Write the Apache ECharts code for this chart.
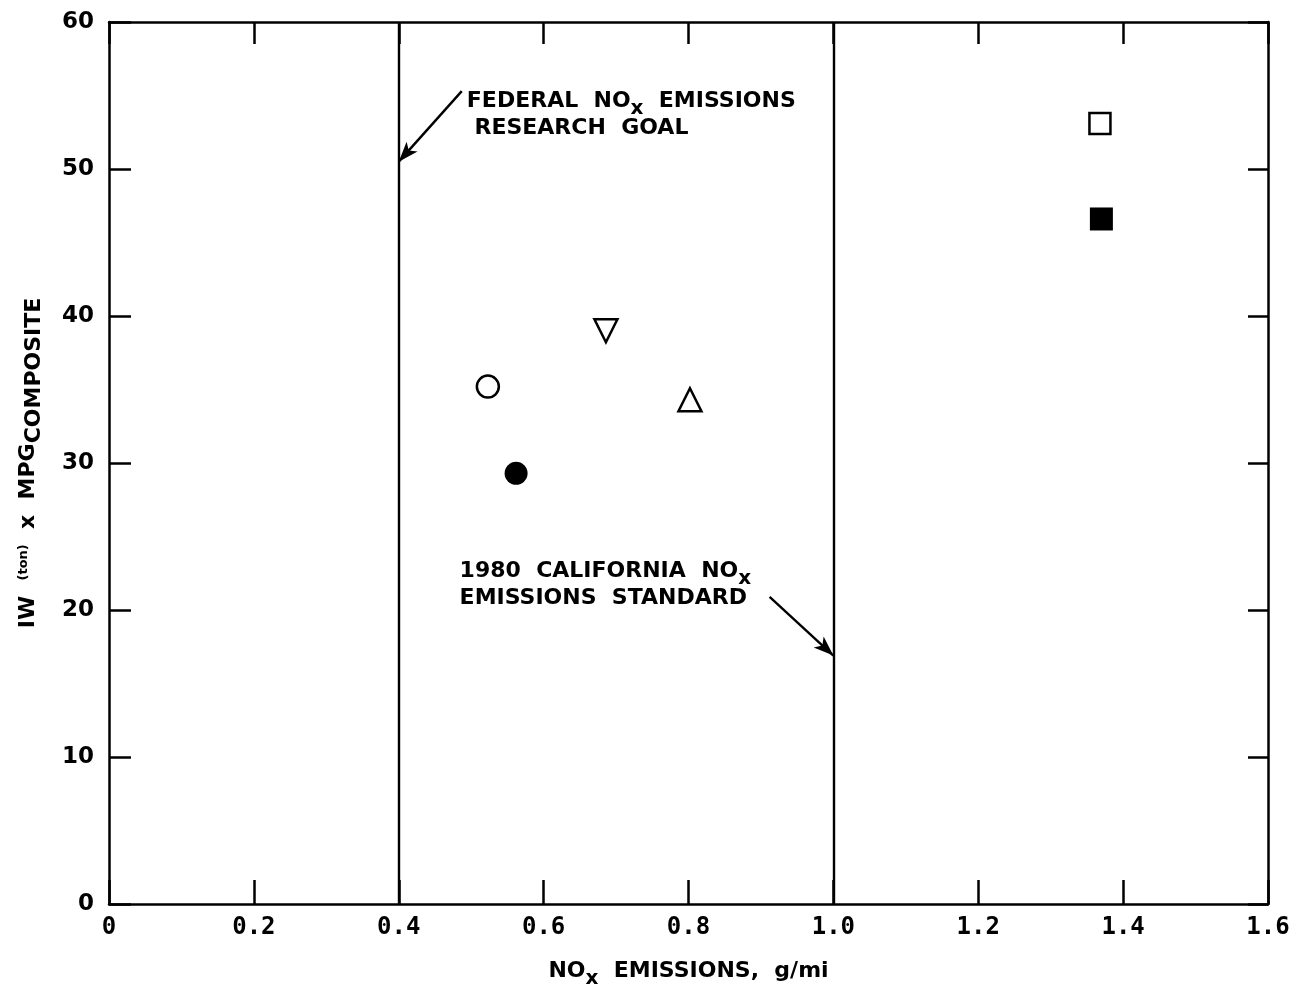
<!DOCTYPE html>
<html>
<head>
    <meta charset="utf-8">
    <script src="https://cdn.jsdelivr.net/npm/echarts@6/dist/echarts.min.js"></script>
    <style>
        html, body { margin: 0; padding: 0; background: #fff; }
        #main { width: 1296px; height: 994px; }
    </style>
</head>
<body>
    <div id="main"></div>
    <script>
        // values
        var noxValues = [0.523, 0.562, 0.686, 0.802, 1.368, 1.370];
        var iwMpgValues = [35.2, 29.3, 39.0, 34.3, 53.1, 46.6];
        var standardLines = [0.4, 1.0];
        var xTickLabels = ['0', '0.2', '0.4', '0.6', '0.8', '1.0', '1.2', '1.4', '1.6'];
        var yTickLabels = ['0', '10', '20', '30', '40', '50', '60'];
        // annotation arrows: [from, to] in data units
        var federalArrow = [[0.487, 55.3], [0.4, 50.5]];
        var californiaArrow = [[0.912, 20.9], [1.0, 16.9]];
        var federalTextAt = [0.494, 53.7];
        var californiaTextAt = [0.484, 21.7];

        // marker look for each point
        var markerStyles = [
            { symbol: 'circle', fill: false, rotate: 0, size: 22 },
            { symbol: 'circle', fill: true, rotate: 0, size: 23 },
            { symbol: 'triangle', fill: false, rotate: 180, size: 23 },
            { symbol: 'triangle', fill: false, rotate: 0, size: 23 },
            { symbol: 'rect', fill: false, rotate: 0, size: 21 },
            { symbol: 'rect', fill: true, rotate: 0, size: 23 }
        ];

        var font = 'DejaVu Sans';
        var chart = echarts.init(document.getElementById('main'));

        var series = [];
        for (var i = 0; i < noxValues.length; i++) {
            var st = markerStyles[i];
            series.push({
                type: 'scatter',
                symbol: st.symbol,
                symbolSize: st.size,
                symbolRotate: st.rotate,
                itemStyle: {
                    color: st.fill ? '#000' : '#fff',
                    borderColor: '#000',
                    borderWidth: st.fill ? 0 : 2.5,
                    opacity: 1
                },
                data: [[noxValues[i], iwMpgValues[i]]],
                z: 5
            });
        }

        var subStyle = { fontSize: 20, fontWeight: 'bold', fontFamily: font, color: '#000', padding: [15, 0, 0, 0] };

        // standard lines
        series.push({
            type: 'scatter',
            data: [],
            markLine: {
                silent: true,
                animation: false,
                symbol: 'none',
                label: { show: false },
                lineStyle: { color: '#000', width: 2.4, type: 'solid' },
                data: standardLines.map(function (v) { return { xAxis: v }; })
            }
        });
        // arrows + notes
        series.push({
            type: 'scatter',
            data: [],
            markLine: {
                silent: true,
                animation: false,
                symbol: ['none', 'arrow'],
                symbolSize: [11, 20],
                label: { show: false },
                lineStyle: { color: '#000', width: 2.4, type: 'solid' },
                data: [
                    [{ coord: federalArrow[0] }, { coord: federalArrow[1] }],
                    [{ coord: californiaArrow[0] }, { coord: californiaArrow[1] }]
                ]
            },
            markPoint: {
                silent: true,
                animation: false,
                symbolSize: 0,
                label: {
                    show: true,
                    position: 'right',
                    distance: 0,
                    align: 'left',
                    color: '#000',
                    fontFamily: font,
                    fontWeight: 'bold',
                    fontSize: 22,
                    lineHeight: 27,
                    rich: { sub: subStyle }
                },
                data: [
                    { coord: federalTextAt, label: { formatter: 'FEDERAL  NO{sub|x}  EMISSIONS\n RESEARCH  GOAL' } },
                    { coord: californiaTextAt, label: { formatter: '1980  CALIFORNIA  NO{sub|x}\nEMISSIONS  STANDARD' } }
                ]
            }
        });

        var lineStyle = { color: '#000', width: 2.5 };

        var option = {
            backgroundColor: '#fff',
            animation: false,
            grid: { left: 109, right: 28, top: 22, bottom: 87 },
            xAxis: [{
                type: 'value',
                min: 0, max: 1.6, interval: 0.2,
                position: 'bottom',
                splitLine: { show: false },
                axisLine: { onZero: false, lineStyle: lineStyle },
                axisTick: { inside: true, length: 24, lineStyle: lineStyle },
                axisLabel: {
                    color: '#000', fontFamily: 'DejaVu Sans Mono', fontWeight: 'bold', fontSize: 24, margin: 12,
                    formatter: function (v) { return xTickLabels[Math.round(v / 0.2)]; }
                },
                name: 'NO{sub|x}  EMISSIONS,  g/mi',
                nameLocation: 'middle',
                nameGap: 50,
                nameTextStyle: {
                    color: '#000', fontFamily: font, fontWeight: 'bold', fontSize: 22,
                    rich: { sub: subStyle }
                }
            }, {
                type: 'value',
                min: 0, max: 1.6, interval: 0.2,
                position: 'top',
                splitLine: { show: false },
                axisLine: { onZero: false, lineStyle: lineStyle },
                axisTick: { inside: true, length: 22, lineStyle: lineStyle },
                axisLabel: { show: false }
            }],
            yAxis: [{
                type: 'value',
                min: 0, max: 60, interval: 10,
                position: 'left',
                splitLine: { show: false },
                axisLine: { show: true, onZero: false, lineStyle: lineStyle },
                axisTick: { show: true, inside: true, length: 22, lineStyle: lineStyle },
                axisLabel: {
                    color: '#000', fontFamily: font, fontWeight: 'bold', fontSize: 23, margin: 15,
                    formatter: function (v) { return yTickLabels[Math.round(v / 10)]; }
                },
                name: 'IW  {sup|(ton)}  x  MPG{sub|COMPOSITE}',
                nameLocation: 'middle',
                nameRotate: 90,
                nameGap: 64,
                nameTextStyle: {
                    color: '#000', fontFamily: font, fontWeight: 'bold', fontSize: 22,
                    rich: {
                        sub: { fontSize: 22, fontWeight: 'bold', fontFamily: font, color: '#000', padding: [12, 0, 0, 0] },
                        sup: { fontSize: 13, fontFamily: font, color: '#000', padding: [0, 0, 8, 0] }
                    }
                }
            }, {
                type: 'value',
                min: 0, max: 60, interval: 10,
                position: 'right',
                splitLine: { show: false },
                axisLine: { show: true, onZero: false, lineStyle: lineStyle },
                axisTick: { show: true, inside: true, length: 20, lineStyle: lineStyle },
                axisLabel: { show: false }
            }],
            series: series
        };

        chart.setOption(option);

        window.onresize = function () {
            chart.resize();
        }
    </script>
</body>
</html>
